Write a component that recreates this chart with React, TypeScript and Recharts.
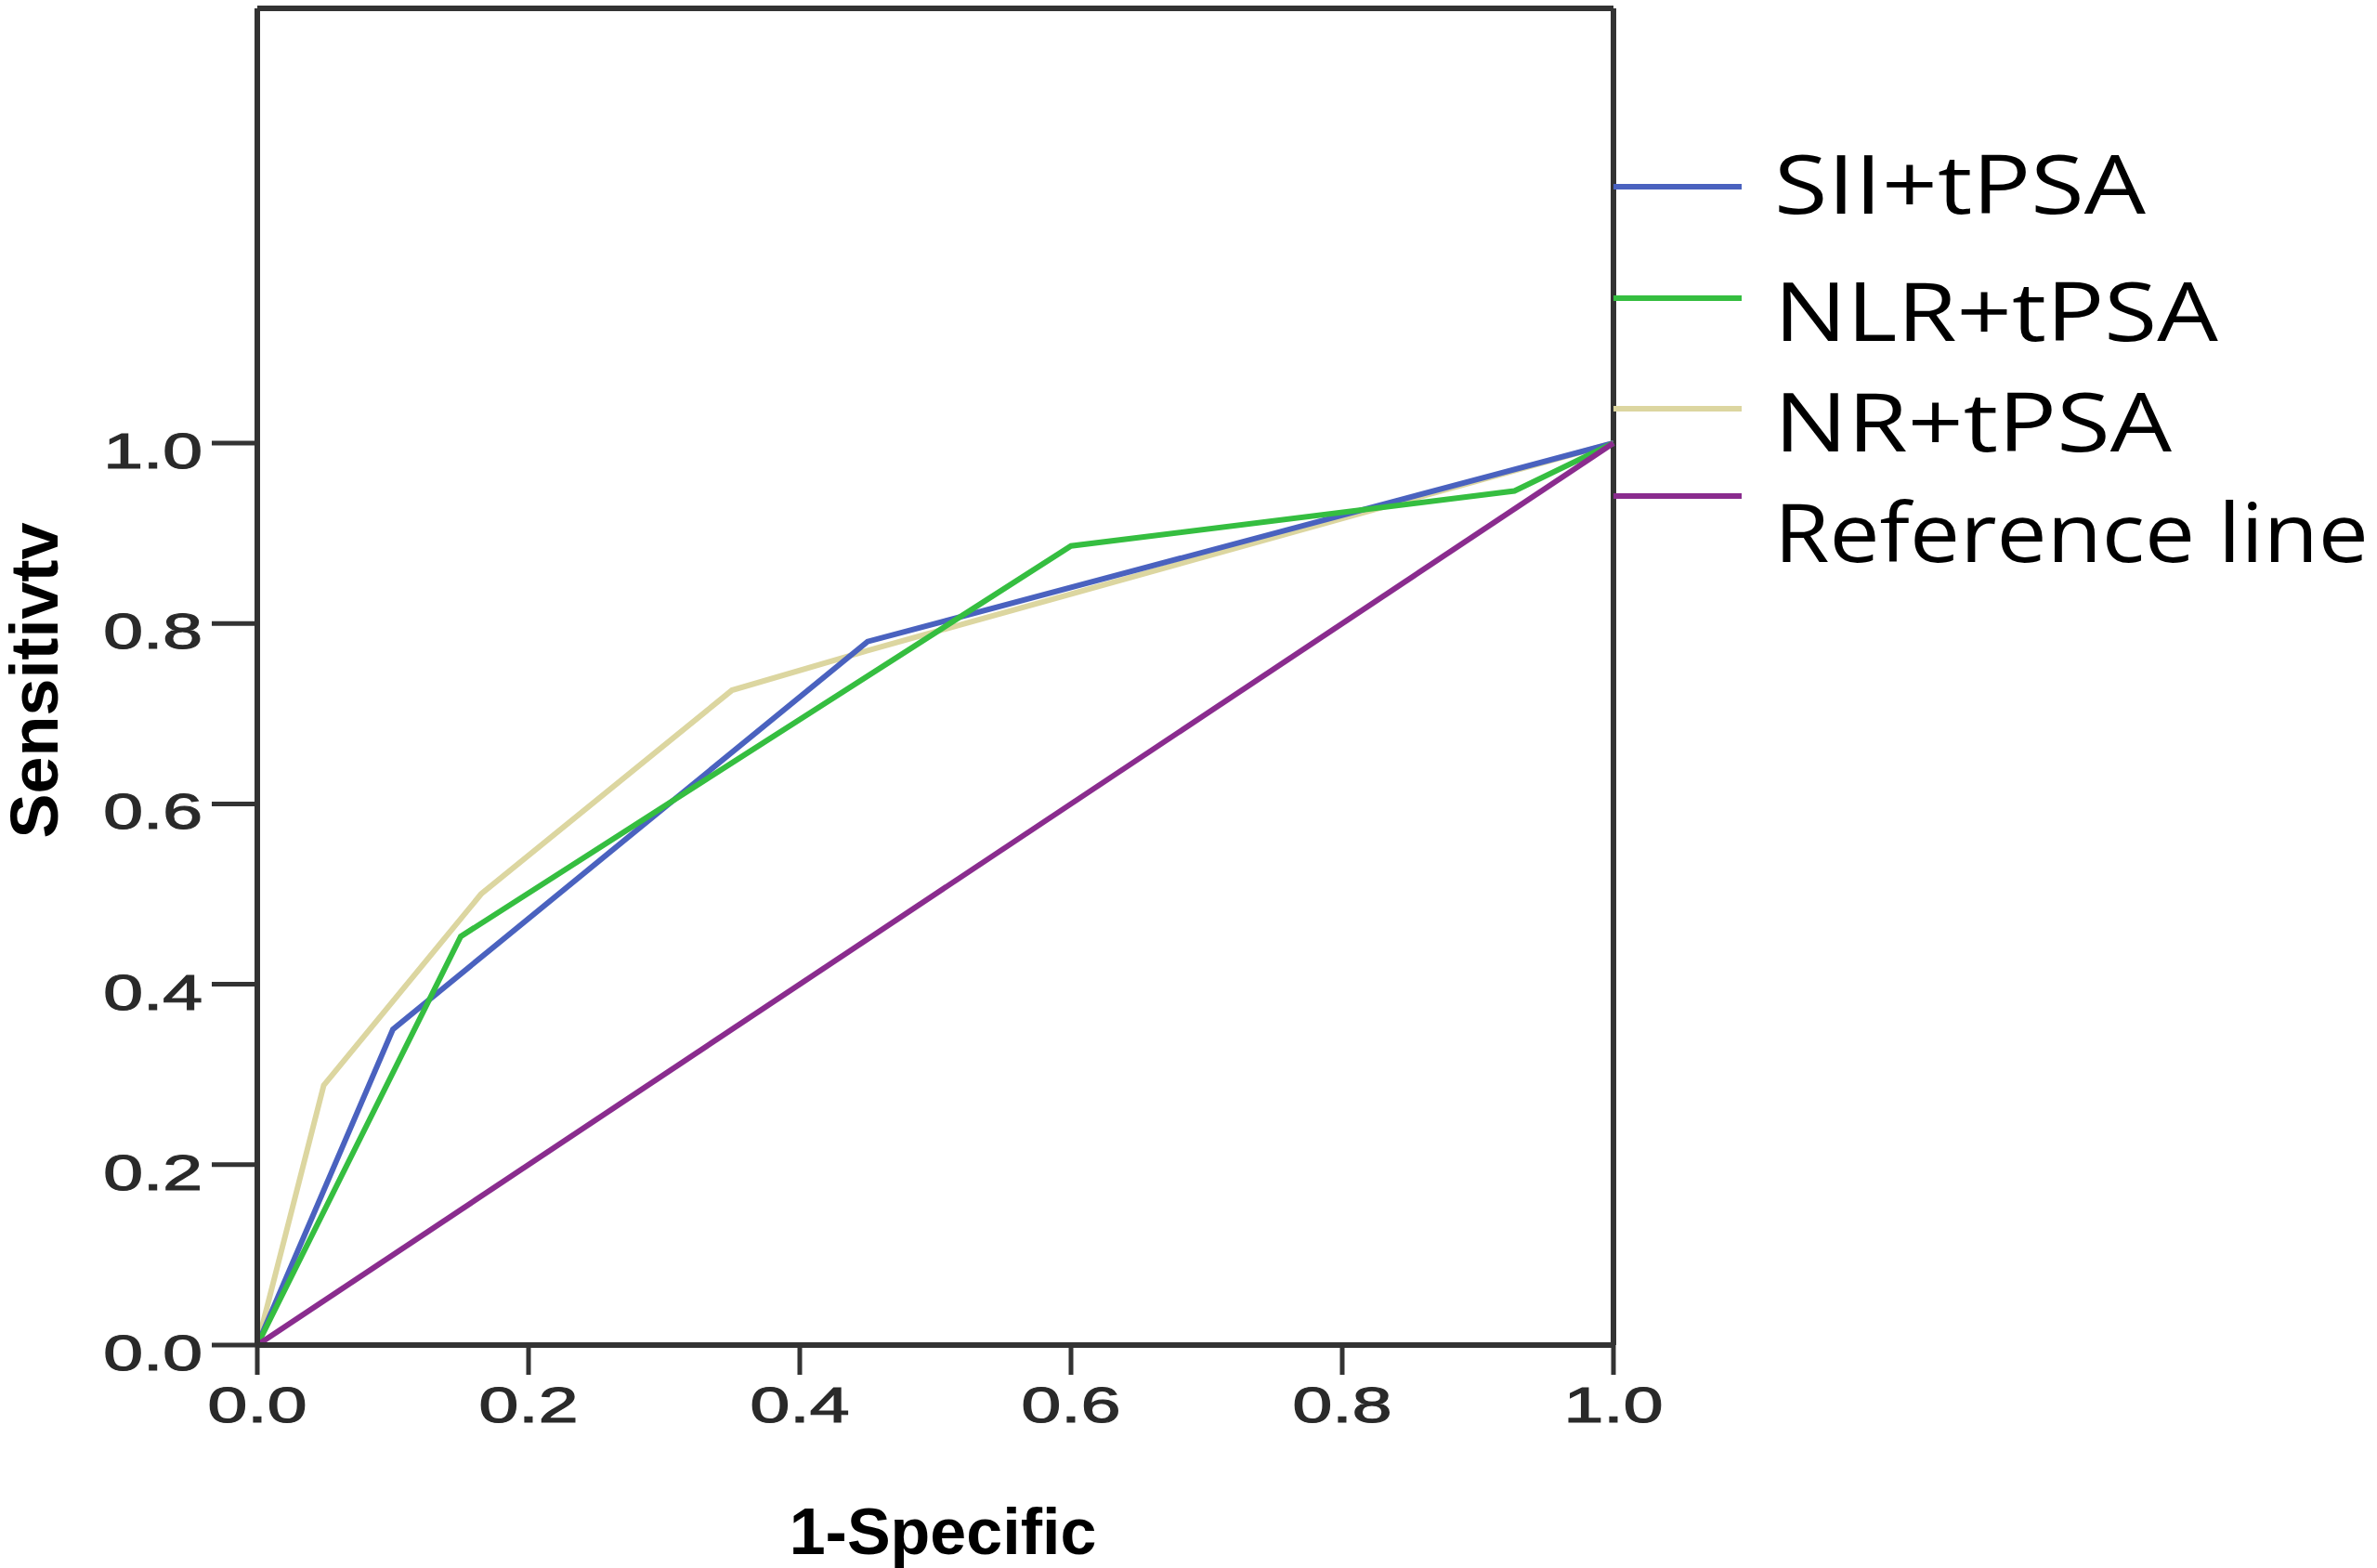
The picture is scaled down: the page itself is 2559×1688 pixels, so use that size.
import React from 'react'
import {
  LineChart,
  Line,
  XAxis,
  YAxis,
  ReferenceLine,
  Legend,
} from 'recharts'

// ROC points (1 - specificity, sensitivity)
const siiFpr = [0, 0.1, 0.45, 1]
const siiTpr = [0, 0.35, 0.78, 1]

const nlrFpr = [0, 0.15, 0.6, 0.927, 1]
const nlrTpr = [0, 0.453, 0.886, 0.947, 1]

const nrFpr = [0, 0.049, 0.165, 0.35, 0.45, 1]
const nrTpr = [0, 0.288, 0.5, 0.726, 0.77, 1]

const refFpr = [0, 1]
const refTpr = [0, 1]

const seriesNames = ['SII+tPSA', 'NLR+tPSA', 'NR+tPSA', 'Reference line']
const seriesColors = ['#4a62bf', '#35be40', '#dcd6a0', '#8a2c8e']

const xTicks = [0, 0.2, 0.4, 0.6, 0.8, 1]
const yTicks = [0, 0.2, 0.4, 0.6, 0.8, 1]
const yTop = 1.482

const xTitle = '1-Specific'
const yTitle = 'Sensitivtv'

const toPoints = (fpr: number[], tpr: number[]) =>
  fpr.map((f, i) => ({ fpr: f, tpr: tpr[i] }))

const siiData = toPoints(siiFpr, siiTpr)
const nlrData = toPoints(nlrFpr, nlrTpr)
const nrData = toPoints(nrFpr, nrTpr)
const refData = toPoints(refFpr, refTpr)

const W = 2559
const H = 1688
const AXIS = '#333333'
const TICK_FONT = '"Liberation Sans", Arial, sans-serif'

// legend row placement (line centre, text baseline, text width)
const legendRows = [
  { lineY: 201, baseY: 230, textW: 400 },
  { lineY: 321, baseY: 367, textW: 478 },
  { lineY: 440, baseY: 486, textW: 428 },
  { lineY: 534, baseY: 605, textW: 640 },
]

const XTick = ({ x, y, payload }: any) => (
  <g transform={`translate(${x},${y})`}>
    <text
      transform="scale(1.45,1)"
      x={0}
      y={38}
      textAnchor="middle"
      fontFamily={TICK_FONT}
      fontSize={53}
      fill="#2a2a2a"
      stroke="#2a2a2a"
      strokeWidth={1.2}
    >
      {Number(payload.value).toFixed(1)}
    </text>
  </g>
)

const YTick = ({ x, y, payload }: any) => (
  <g transform={`translate(${x},${y})`}>
    <text
      transform="scale(1.45,1)"
      x={0}
      y={27}
      textAnchor="end"
      fontFamily={TICK_FONT}
      fontSize={53}
      fill="#2a2a2a"
      stroke="#2a2a2a"
      strokeWidth={1.2}
    >
      {Number(payload.value).toFixed(1)}
    </text>
  </g>
)

const renderLegend = (props: any) => {
  const items = props.payload || []
  return (
    <svg width={W} height={H}>
      {items.map((item: any) => {
        const row = legendRows[seriesNames.indexOf(item.value)]
        if (!row) return null
        return (
          <g key={item.value}>
            <line
              x1={1737}
              x2={1875}
              y1={row.lineY}
              y2={row.lineY}
              stroke={item.color}
              strokeWidth={6}
            />
            <text
              x={1910}
              y={row.baseY}
              textLength={row.textW}
              lengthAdjust="spacingAndGlyphs"
              fontFamily='"Open Sans", "Noto Sans", sans-serif'
              fontSize={88}
              fill="#000"
            >
              {item.value}
            </text>
          </g>
        )
      })}
    </svg>
  )
}

export default function App() {
  return (
    <div style={{ position: 'absolute', left: 0, top: 0, width: W, height: H, background: '#fff' }}>
      <LineChart
        width={W}
        height={H}
        margin={{ top: 9, right: 822, bottom: 0, left: 0 }}
      >
        <XAxis
          dataKey="fpr"
          type="number"
          domain={[0, 1]}
          ticks={xTicks}
          height={240}
          axisLine={{ stroke: AXIS, strokeWidth: 6 }}
          tickLine={{ stroke: AXIS, strokeWidth: 5 }}
          tickSize={32}
          tickMargin={13}
          tick={<XTick />}
          label={{
            content: ({ viewBox }: any) => (
              <text
                x={viewBox.x + viewBox.width / 2 + 8}
                y={viewBox.y + 225}
                textAnchor="middle"
                fontFamily='"Liberation Sans", Arial, sans-serif'
                fontWeight="bold"
                fontSize={70}
                fill="#000"
              >
                {xTitle}
              </text>
            ),
          }}
        />
        <YAxis
          type="number"
          domain={[0, yTop]}
          ticks={yTicks}
          width={277}
          axisLine={{ stroke: AXIS, strokeWidth: 6 }}
          tickLine={{ stroke: AXIS, strokeWidth: 5 }}
          tickSize={49}
          tickMargin={10}
          tick={<YTick />}
          label={{
            content: ({ viewBox }: any) => (
              <text
                transform={`translate(${viewBox.x + 62},${viewBox.y + viewBox.height / 2 + 4}) rotate(-90)`}
                textAnchor="middle"
                fontFamily='"Liberation Sans", Arial, sans-serif'
                fontWeight="bold"
                fontSize={72}
                fill="#000"
              >
                {yTitle}
              </text>
            ),
          }}
        />
        <ReferenceLine y={yTop} stroke={AXIS} strokeWidth={6} />
        <ReferenceLine x={1} stroke={AXIS} strokeWidth={6} />
        <Line
          data={nrData}
          dataKey="tpr"
          name={seriesNames[2]}
          type="linear"
          stroke={seriesColors[2]}
          strokeWidth={6}
          dot={false}
          isAnimationActive={false}
        />
        <Line
          data={siiData}
          dataKey="tpr"
          name={seriesNames[0]}
          type="linear"
          stroke={seriesColors[0]}
          strokeWidth={6}
          dot={false}
          isAnimationActive={false}
        />
        <Line
          data={nlrData}
          dataKey="tpr"
          name={seriesNames[1]}
          type="linear"
          stroke={seriesColors[1]}
          strokeWidth={6}
          dot={false}
          isAnimationActive={false}
        />
        <Line
          data={refData}
          dataKey="tpr"
          name={seriesNames[3]}
          type="linear"
          stroke={seriesColors[3]}
          strokeWidth={6}
          dot={false}
          isAnimationActive={false}
        />
        <Legend
          layout="horizontal"
          align="center"
          verticalAlign="middle"
          content={renderLegend}
          wrapperStyle={{ left: 0, top: 0, width: W, height: H, pointerEvents: 'none' }}
        />
      </LineChart>
    </div>
  )
}
